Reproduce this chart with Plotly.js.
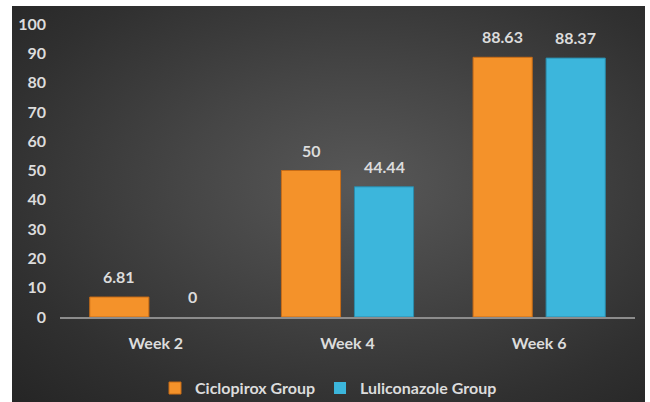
<!DOCTYPE html>
<html>
<head>
<meta charset="utf-8">
<script src="https://cdn.plot.ly/plotly-3.0.1.min.js"></script>
<style>
  html, body { margin: 0; padding: 0; background: #ffffff; width: 650px; height: 402px; overflow: hidden; }
  #chart {
    position: absolute; left: 12px; top: 6px; width: 633px; height: 396px;
    background: radial-gradient(ellipse at 55% 45%, #585858 0%, #464646 35%, #303030 75%, #252525 100%);
  }
</style>
</head>
<body>
<div id="chart"></div>
<script>
const categories = ["Week 2", "Week 4", "Week 6"];
const ciclopirox = [6.81, 50, 88.63];
const luliconazole = [0, 44.44, 88.37];
const seriesNames = ["Ciclopirox Group", "Luliconazole Group"];
const yTicks = [0, 10, 20, 30, 40, 50, 60, 70, 80, 90, 100];

const fontFam = "Lato, 'Open Sans', sans-serif";
const txtColor = "#dcdcdc";

const traces = [
  { type: "bar", name: seriesNames[0], x: categories, y: ciclopirox,
    marker: { color: "#f4922a", line: { color: "#c86c16", width: ciclopirox.map(v => v > 0 ? 1 : 0) } } },
  { type: "bar", name: seriesNames[1], x: categories, y: luliconazole,
    marker: { color: "#3cb6dc", line: { color: "#2a8cac", width: luliconazole.map(v => v > 0 ? 1 : 0) } } }
];

const annotations = [];
[ciclopirox, luliconazole].forEach((vals, si) => {
  vals.forEach((v, i) => {
    annotations.push({
      x: categories[i], y: v, xref: "x", yref: "y",
      text: String(v), showarrow: false,
      xshift: si === 0 ? -36.5 : 36.5, yanchor: "bottom", yshift: 9,
      font: { family: fontFam, size: 16, color: txtColor, weight: "bold" }
    });
  });
});

const layout = {
  width: 633, height: 396,
  margin: { l: 48, r: 10, t: 18, b: 85 },
  paper_bgcolor: "rgba(0,0,0,0)",
  plot_bgcolor: "rgba(0,0,0,0)",
  barmode: "group", bargap: 0.238, bargroupgap: 0.19,
  font: { family: fontFam, size: 16, color: txtColor, weight: "bold" },
  xaxis: {
    showline: true, linecolor: "#8c8c8c", linewidth: 2, showgrid: false,
    zeroline: false, ticks: "", ticklabelstandoff: 11,
    tickfont: { family: fontFam, size: 16, color: txtColor, weight: "bold" }
  },
  yaxis: {
    range: [0, 100], tickvals: yTicks, showgrid: false, zeroline: false,
    showline: false, ticks: "", ticklabelstandoff: 13,
    tickfont: { family: fontFam, size: 16, color: txtColor, weight: "bold" }
  },
  showlegend: true,
  legend: {
    orientation: "h", xref: "container", yref: "container",
    x: 0.5, xanchor: "center", y: 0.035, yanchor: "middle",
    font: { family: fontFam, size: 16, color: txtColor, weight: "bold" },
    bgcolor: "rgba(0,0,0,0)", itemwidth: 30
  },
  annotations: annotations
};

Plotly.newPlot("chart", traces, layout, { displayModeBar: false, staticPlot: true });
</script>
</body>
</html>
